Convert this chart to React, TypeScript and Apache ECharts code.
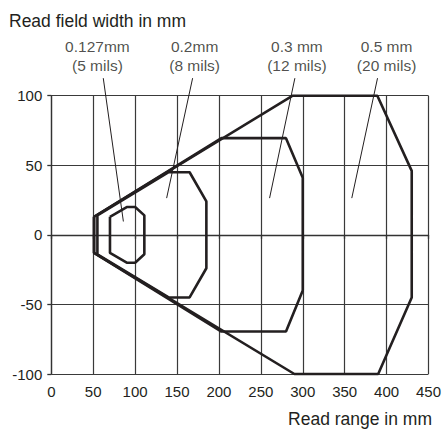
import React, { useEffect, useRef } from "react";
import * as echarts from "echarts";

// Read-field polygons: [range mm, field width mm]
const field0127: [number, number][] = [
  [70, 13], [90, 20], [100, 20], [111, 14], [111, -14], [100, -20], [90, -20], [70, -13], [70, 13],
];
const field02: [number, number][] = [
  [55, 14], [140, 45], [165, 45], [185, 24], [185, -24], [165, -45], [140, -45], [55, -14], [55, 14],
];
const field03: [number, number][] = [
  [51, 13], [203, 69.5], [280, 69.5], [300, 41], [300, -40], [280, -69.5], [203, -69.5], [51, -13], [51, 13],
];
const field05: [number, number][] = [
  [51, 13], [288, 100], [389, 100], [430, 46], [430, -45], [390, -100], [290, -100], [51, -13], [51, 13],
];

const annotationLabels = ["0.127mm\n(5 mils)", "0.2mm\n(8 mils)", "0.3 mm\n(12 mils)", "0.5 mm\n(20 mils)"];
const annotationPos: [number, number][] = [[55, 128.7], [171, 128.7], [293, 128.7], [400, 128.7]];
const leaderLines: [number, number][][] = [
  [[62, 112.6], [86, 9.6]],
  [[168.6, 112.6], [137.6, 26.4]],
  [[290.6, 112.6], [260.4, 26.4]],
  [[389.2, 112.6], [358.5, 26.4]],
];

const xTicks = { min: 0, max: 450, interval: 50 };
const yTicks = { min: -100, max: 100, interval: 50 };

const FONT = "Liberation Sans, Arial, Helvetica, sans-serif";

export default function App() {
  const ref = useRef<HTMLDivElement>(null);
  useEffect(() => {
    if (!ref.current) return;
    const chart = echarts.init(ref.current, null, { renderer: "svg" });
    const shapeStyle = { color: "#231f20", width: 2.6 };
    const polySeries = [field0127, field02, field03, field05].map((d) => ({
      type: "line",
      data: d,
      symbol: "none",
      lineStyle: shapeStyle,
      clip: false,
      z: 5,
    }));
    const leaderSeries = leaderLines.map((d) => ({
      type: "line",
      data: d,
      symbol: "none",
      lineStyle: { color: "#231f20", width: 1 },
      clip: false,
      z: 6,
    }));
    chart.setOption({
      animation: false,
      grid: { left: 51.3, right: 15.3, top: 95.7, bottom: 58 },
      xAxis: {
        type: "value",
        min: xTicks.min,
        max: xTicks.max,
        interval: xTicks.interval,
        axisLine: { show: true, lineStyle: { color: "#333", width: 1.3 } },
        axisTick: { show: true, length: 4, lineStyle: { color: "#333", width: 1.3 } },
        axisLabel: { color: "#231f20", fontSize: 15, fontFamily: FONT, margin: 10 },
        splitLine: { show: true, lineStyle: { color: "#3a3a3a", width: 1.2 } },
      },
      yAxis: {
        type: "value",
        min: yTicks.min,
        max: yTicks.max,
        interval: yTicks.interval,
        axisLine: { show: true, lineStyle: { color: "#333", width: 1.3 } },
        axisTick: { show: true, length: 4, lineStyle: { color: "#333", width: 1.3 } },
        axisLabel: { color: "#231f20", fontSize: 15, fontFamily: FONT, margin: 9 },
        splitLine: { show: true, lineStyle: { color: "#3a3a3a", width: 1.2 } },
      },
      graphic: [
        {
          type: "text",
          left: 9,
          top: 12,
          style: { text: "Read field width in mm", fontSize: 17.5, fontFamily: FONT, fill: "#231f20" },
        },
        {
          type: "text",
          right: 12,
          top: 410,
          style: { text: "Read range in mm", fontSize: 17.5, fontFamily: FONT, fill: "#231f20" },
        },
      ],
      series: [
        ...polySeries,
        ...leaderSeries,
        {
          type: "scatter",
          data: annotationPos.map((p, i) => ({ value: p, label: { formatter: annotationLabels[i] } })),
          symbolSize: 0,
          clip: false,
          label: {
            show: true,
            position: "inside",
            color: "#231f20",
            fontSize: 15.5,
            fontFamily: FONT,
            lineHeight: 18.5,
            align: "center",
            verticalAlign: "middle",
          },
          z: 7,
        },
      ],
    });
    return () => chart.dispose();
  }, []);
  return <div ref={ref} style={{ position: "absolute", left: 0, top: 0, width: 444, height: 432 }} />;
}
